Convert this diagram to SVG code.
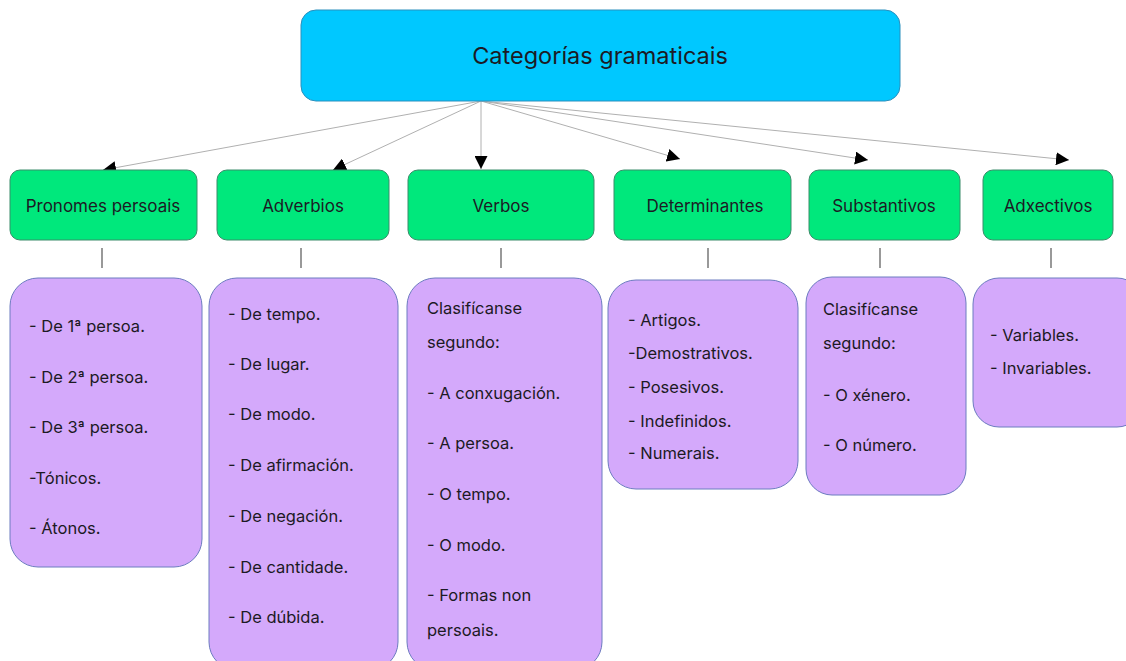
<svg xmlns="http://www.w3.org/2000/svg" width="1126" height="661" viewBox="0 0 1126 661">
<style>
text{font-family:Inter,"Liberation Sans",sans-serif;fill:#1c1a24}
.root{fill:#00c8ff;stroke:#2b8fbd;stroke-width:1}
.cat{fill:#00e87c;stroke:#3b8c6a;stroke-width:1}
.det{fill:#d4a9fb;stroke:#6d7cc0;stroke-width:1}
.lbl{font-size:17px;text-anchor:middle}
.item{font-size:16.5px}
.edge{stroke:#b0b0b0;stroke-width:1;fill:none}
.tick{stroke:#555;stroke-width:1.2}
</style>
<defs>
<marker id="ah" viewBox="0 0 10 10" refX="10" refY="5" markerWidth="13" markerHeight="13" markerUnits="userSpaceOnUse" orient="auto">
<path d="M0,0 L10,5 L0,10 Z" fill="#000"/>
</marker>
</defs>
<rect width="1126" height="661" fill="#fff"/>
<g id="connectors">
<line class="edge" x1="481" y1="101" x2="103" y2="170" marker-end="url(#ah)"/>
<line class="edge" x1="481" y1="101" x2="333" y2="170" marker-end="url(#ah)"/>
<line class="edge" x1="481" y1="101" x2="481" y2="169" marker-end="url(#ah)"/>
<line class="edge" x1="481" y1="101" x2="680" y2="159" marker-end="url(#ah)"/>
<line class="edge" x1="481" y1="101" x2="868" y2="160" marker-end="url(#ah)"/>
<line class="edge" x1="481" y1="101" x2="1069" y2="160" marker-end="url(#ah)"/>
<line class="tick" x1="102" y1="248" x2="102" y2="268"/>
<line class="tick" x1="301" y1="248" x2="301" y2="268"/>
<line class="tick" x1="501" y1="248" x2="501" y2="268"/>
<line class="tick" x1="708" y1="248" x2="708" y2="268"/>
<line class="tick" x1="880" y1="248" x2="880" y2="268"/>
<line class="tick" x1="1051" y1="248" x2="1051" y2="268"/>
</g>
<g id="root">
<rect class="root" x="301" y="10" width="599" height="91" rx="15"/>
<text x="600" y="64" font-size="23.5" text-anchor="middle">Categorías gramaticais</text>
</g>
<g id="pronomes">
<rect class="cat" x="10" y="170" width="187" height="70" rx="10"/>
<text class="lbl" x="103" y="212">Pronomes persoais</text>
</g>
<g id="adverbios">
<rect class="cat" x="217" y="170" width="172" height="70" rx="10"/>
<text class="lbl" x="303" y="212">Adverbios</text>
</g>
<g id="verbos">
<rect class="cat" x="408" y="170" width="186" height="70" rx="10"/>
<text class="lbl" x="501" y="212">Verbos</text>
</g>
<g id="determinantes">
<rect class="cat" x="614" y="170" width="177" height="70" rx="10"/>
<text class="lbl" x="705" y="212">Determinantes</text>
</g>
<g id="substantivos">
<rect class="cat" x="809" y="170" width="151" height="70" rx="10"/>
<text class="lbl" x="884" y="212">Substantivos</text>
</g>
<g id="adxectivos">
<rect class="cat" x="983" y="170" width="130" height="70" rx="10"/>
<text class="lbl" x="1048" y="212">Adxectivos</text>
</g>
<g id="pronomes-detail">
<rect class="det" x="10" y="278" width="192" height="289" rx="28"/>
<text class="item" x="29" y="332">- De 1ª persoa.</text>
<text class="item" x="29" y="383">- De 2ª persoa.</text>
<text class="item" x="29" y="433">- De 3ª persoa.</text>
<text class="item" x="29" y="484">-Tónicos.</text>
<text class="item" x="29" y="534">- Átonos.</text>
</g>
<g id="adverbios-detail">
<rect class="det" x="209" y="278" width="189" height="392" rx="28"/>
<text class="item" x="228" y="320">- De tempo.</text>
<text class="item" x="228" y="370">- De lugar.</text>
<text class="item" x="228" y="420">- De modo.</text>
<text class="item" x="228" y="471">- De afirmación.</text>
<text class="item" x="228" y="522">- De negación.</text>
<text class="item" x="228" y="573">- De cantidade.</text>
<text class="item" x="228" y="623">- De dúbida.</text>
</g>
<g id="verbos-detail">
<rect class="det" x="407" y="278" width="195" height="392" rx="28"/>
<text class="item" x="427" y="314">Clasifícanse</text>
<text class="item" x="427" y="348">segundo:</text>
<text class="item" x="427" y="399">- A conxugación.</text>
<text class="item" x="427" y="449">- A persoa.</text>
<text class="item" x="427" y="500">- O tempo.</text>
<text class="item" x="427" y="551">- O modo.</text>
<text class="item" x="427" y="601">- Formas non</text>
<text class="item" x="427" y="636">persoais.</text>
</g>
<g id="determinantes-detail">
<rect class="det" x="608" y="280" width="190" height="209" rx="28"/>
<text class="item" x="628" y="326">- Artigos.</text>
<text class="item" x="628" y="359">-Demostrativos.</text>
<text class="item" x="628" y="393">- Posesivos.</text>
<text class="item" x="628" y="427">- Indefinidos.</text>
<text class="item" x="628" y="459">- Numerais.</text>
</g>
<g id="substantivos-detail">
<rect class="det" x="806" y="277" width="160" height="218" rx="26"/>
<text class="item" x="823" y="315">Clasifícanse</text>
<text class="item" x="823" y="349">segundo:</text>
<text class="item" x="823" y="401">- O xénero.</text>
<text class="item" x="823" y="451">- O número.</text>
</g>
<g id="adxectivos-detail">
<rect class="det" x="973" y="278" width="170" height="149" rx="26"/>
<text class="item" x="990" y="341">- Variables.</text>
<text class="item" x="990" y="374">- Invariables.</text>
</g>
</svg>
